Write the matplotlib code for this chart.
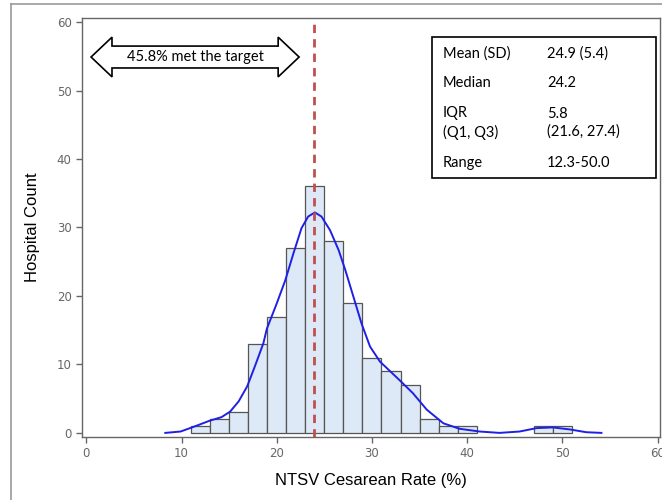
import matplotlib
matplotlib.use("Agg")
import matplotlib.pyplot as plt
from matplotlib.patches import Polygon, Rectangle

# histogram bins (left edges, width 2) and hospital counts
bin_left = [11, 13, 15, 17, 19, 21, 23, 25, 27, 29, 31, 33, 35, 37, 39, 47, 49]
counts = [1, 2, 3, 13, 17, 27, 36, 28, 19, 11, 9, 7, 2, 1, 1, 1, 1]
bin_width = 2

# density curve (scaled to counts)
curve_x = [8.3, 9.9, 11.3, 13.0, 14.2, 15.1, 16.0, 16.9, 17.7, 18.6, 18.96,
           20.0, 20.9, 21.75, 22.6, 23.3, 24.0, 24.7, 25.6, 26.5, 27.2, 28.05,
           28.9, 29.8, 30.85, 32.9, 34.3, 35.75, 37.5, 39.2, 41.3, 43.4, 45.5,
           47.3, 49.0, 50.8, 52.5, 54.1]
curve_y = [0.0, 0.2, 0.9, 1.8, 2.3, 3.1, 4.6, 6.8, 9.7, 13.1, 15.2,
           18.9, 22.3, 26.2, 29.9, 31.6, 32.2, 31.6, 29.6, 26.7, 23.8, 19.9,
           16.0, 12.6, 10.4, 7.7, 5.8, 3.4, 1.4, 0.6, 0.2, 0.0, 0.2,
           0.7, 0.8, 0.5, 0.1, 0.0]

target = 23.9
arrow_text = "45.8% met the target"
stat_names = ["Mean (SD)", "Median", "IQR\n(Q1, Q3)", "Range"]
stat_values = ["24.9 (5.4)", "24.2", "5.8\n(21.6, 27.4)", "12.3-50.0"]

fig = plt.figure(figsize=(6.62, 5), dpi=100)
ax = fig.add_axes([82 / 662, 63 / 500, 578 / 662, 419 / 500])

ax.bar(bin_left, counts, width=bin_width, align="edge", color="#dde9f6",
       edgecolor="#555555", linewidth=0.9, zorder=2)
ax.plot(curve_x, curve_y, color="#1f1fe6", lw=1.4, zorder=3, solid_joinstyle="round")
ax.axvline(target, color="#c0504d", lw=2, ls=(0, (3, 2.2)), zorder=4)

ax.set_xlim(-0.45, 60.25)
ax.set_ylim(-0.6, 60.6)
ax.set_xticks(range(0, 61, 10))
ax.set_yticks(range(0, 61, 10))
for s in ax.spines.values():
    s.set_color("#666666")
    s.set_linewidth(1.0)
ax.tick_params(colors="#666666", labelcolor="#666666", labelsize=8.5, length=4, width=1)

ax.set_xlabel("NTSV Cesarean Rate (%)", fontsize=12, family="Liberation Sans", labelpad=9)
ax.set_ylabel("Hospital Count", fontsize=12, family="Liberation Sans", labelpad=12)

# double headed arrow
x0, x1, yc = 0.5, 22.35, 54.9
hl, hh, bh = 2.2, 2.9, 1.6
arrow_pts = [(x0, yc), (x0 + hl, yc + hh), (x0 + hl, yc + bh), (x1 - hl, yc + bh),
             (x1 - hl, yc + hh), (x1, yc), (x1 - hl, yc - hh), (x1 - hl, yc - bh),
             (x0 + hl, yc - bh), (x0 + hl, yc - hh)]
ax.add_patch(Polygon(arrow_pts, closed=True, facecolor="white", edgecolor="black",
                     lw=1.2, joinstyle="miter", zorder=5))
ax.text((x0 + x1) / 2, yc, arrow_text, ha="center", va="center", fontsize=10.5,
        family="Lato", zorder=7)

# stats box
box_x0, box_x1 = (432 - 86) / 9.53, (656 - 86) / 9.53
box_y0, box_y1 = (433 - 178) / 6.85, (433 - 37) / 6.85
ax.add_patch(Rectangle((box_x0, box_y0), box_x1 - box_x0, box_y1 - box_y0,
                       facecolor="white", edgecolor="black", lw=1.2, zorder=5))
row_y = [(433 - 53) / 6.85, (433 - 83) / 6.85, (433 - 123) / 6.85, (433 - 163) / 6.85]
for name, val, yy in zip(stat_names, stat_values, row_y):
    ax.text((443 - 86) / 9.53, yy, name, ha="left", va="center", fontsize=10.5,
            family="Lato", linespacing=1.35, zorder=6)
    ax.text((547 - 86) / 9.53, yy, val, ha="left", va="center", fontsize=10.5,
            family="Lato", linespacing=1.35, zorder=6)

# outer frame
fig.add_artist(plt.Line2D([11 / 662, 11 / 662], [0, 1 - 4 / 500], color="#999999",
                          lw=1.2, transform=fig.transFigure))
fig.add_artist(plt.Line2D([11 / 662, 1], [1 - 4 / 500, 1 - 4 / 500], color="#999999",
                          lw=1.2, transform=fig.transFigure))

fig.savefig("out.png", dpi=100)
